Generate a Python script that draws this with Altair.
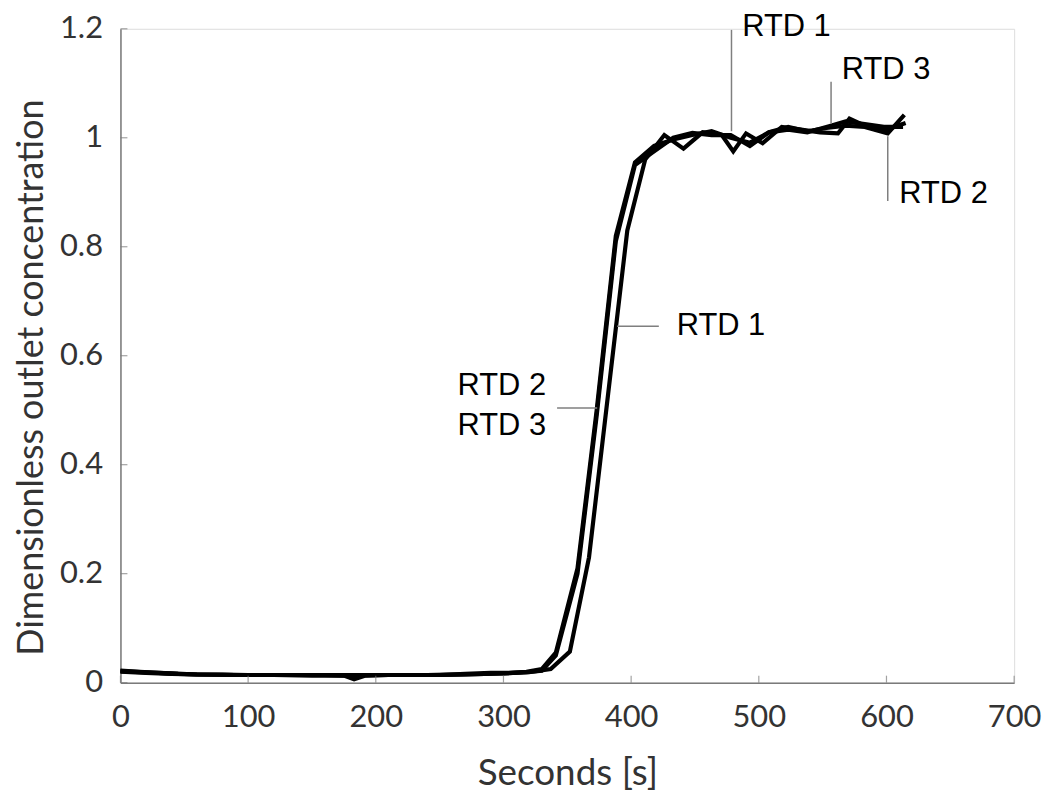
import altair as alt
import pandas as pd

# ---- data ----
t_rtd1 = [0, 20, 40, 60, 90, 120, 150, 180, 210, 240, 270, 300, 320, 337, 352, 367, 382, 397, 411,
          426, 441, 456, 471, 480, 490, 503, 518, 533, 548, 562, 571, 585, 600, 615]
c_rtd1 = [0.020, 0.018, 0.016, 0.015, 0.014, 0.014, 0.014, 0.014, 0.014, 0.014, 0.015, 0.017, 0.019, 0.025,
          0.057, 0.23, 0.53, 0.83, 0.96,
          1.005, 0.98, 1.01, 1.005, 0.975, 1.008, 0.99, 1.02, 1.015, 1.01, 1.008, 1.035, 1.02, 1.015, 1.027]

t_rtd2 = [0, 15, 30, 45, 60, 80, 100, 120, 140, 160, 175, 183, 192, 210, 230, 250, 270, 290, 305, 318,
          330, 341, 358, 373, 388, 403, 418, 433, 448, 463, 478, 493, 508, 523, 538, 553, 568, 583, 601, 614]
c_rtd2 = [0.022, 0.020, 0.018, 0.016, 0.015, 0.015, 0.014, 0.014, 0.014, 0.014, 0.013, 0.006, 0.013, 0.014,
          0.014, 0.014, 0.016, 0.018, 0.018, 0.020,
          0.025, 0.055, 0.21, 0.50, 0.82, 0.955, 0.985, 0.997, 1.005, 1.012, 1.0, 0.991, 1.01, 1.02, 1.012,
          1.018, 1.022, 1.02, 1.008, 1.042]

t_rtd3 = [0, 20, 40, 60, 90, 120, 150, 180, 210, 240, 270, 300, 318, 330, 341, 358, 373, 388, 403,
          418, 433, 448, 463, 478, 493, 508, 523, 538, 555, 568, 583, 598, 613]
c_rtd3 = [0.021, 0.019, 0.017, 0.015, 0.014, 0.014, 0.013, 0.013, 0.014, 0.014, 0.015, 0.017, 0.019, 0.022,
          0.05, 0.20, 0.49, 0.81, 0.95,
          0.975, 1.0, 1.009, 1.005, 1.005, 0.985, 1.01, 1.015, 1.01, 1.021, 1.03, 1.025, 1.02, 1.02]

x_ticks = [0, 100, 200, 300, 400, 500, 600, 700]
y_ticks = [0, 0.2, 0.4, 0.6, 0.8, 1.0, 1.2]

label_text = ["RTD 1", "RTD 3", "RTD 2", "RTD 1", "RTD 2", "RTD 3"]
label_x = [487, 565, 610, 435.7, 264, 264]
label_y = [1.204, 1.125, 0.897, 0.654, 0.544, 0.471]

leader_x = [478.6, 556.6, 601, 389, 342]
leader_x2 = [478.6, 556.6, 601, 421.7, 373.4]
leader_y = [1.012, 1.026, 0.884, 0.654, 0.504]
leader_y2 = [1.198, 1.103, 1.003, 0.654, 0.504]

# ---- tables ----
rows = []
for name, ts, cs in [("RTD 1", t_rtd1, c_rtd1), ("RTD 2", t_rtd2, c_rtd2), ("RTD 3", t_rtd3, c_rtd3)]:
    for i, (t, c) in enumerate(zip(ts, cs)):
        rows.append({"series": name, "t": t, "c": c, "order": i})
df = pd.DataFrame(rows)
labels = pd.DataFrame({"text": label_text, "t": label_x, "c": label_y})
leaders = pd.DataFrame({"t": leader_x, "t2": leader_x2, "c": leader_y, "c2": leader_y2})
xt = pd.DataFrame({"t": x_ticks, "c": [0] * len(x_ticks)})
yt = pd.DataFrame({"t": [0] * len(y_ticks), "c": y_ticks})

FONT = "Lato"
xscale = alt.Scale(domain=[0, 700], nice=False, zero=False)
yscale = alt.Scale(domain=[0, 1.2], nice=False, zero=False)

x_enc = alt.X("t:Q", scale=xscale,
              axis=alt.Axis(values=x_ticks, title="Seconds [s]", tickSize=0, grid=False,
                            labelFlush=False, labelOverlap=False,
                            labelFont=FONT, labelFontSize=31, labelColor="#333333",
                            labelPadding=20, titleFont=FONT, titleFontSize=37,
                            titleFontWeight="normal", titleColor="#333333", titlePadding=23,
                            domainColor="#7a7a7a", domainWidth=1.5))
y_enc = alt.Y("c:Q", scale=yscale,
              axis=alt.Axis(values=y_ticks, title="Dimensionless outlet concentration", tickSize=0,
                            grid=False, labelFlush=False, labelOverlap=False,
                            labelFont=FONT, labelFontSize=31, labelColor="#333333",
                            labelPadding=18, labelExpr="format(datum.value, '.1~f')",
                            titleFont=FONT, titleFontSize=36, titleFontWeight="normal",
                            titleColor="#333333", titlePadding=9, titleY=350,
                            domainColor="#7a7a7a", domainWidth=1.5))

lines = alt.Chart(df).mark_line(color="black", strokeWidth=4.2, strokeJoin="miter").encode(
    x=x_enc, y=y_enc, detail="series:N", order="order:Q")

xticks = alt.Chart(xt).mark_tick(orient="vertical", size=7, thickness=1.2, color="#7a7a7a",
                                 yOffset=-3.5).encode(
    x=alt.X("t:Q", scale=xscale), y=alt.Y("c:Q", scale=yscale))
yticks = alt.Chart(yt).mark_tick(orient="horizontal", size=7, thickness=1.2, color="#7a7a7a",
                                 xOffset=3.5).encode(
    x=alt.X("t:Q", scale=xscale), y=alt.Y("c:Q", scale=yscale))

lead = alt.Chart(leaders).mark_rule(color="#7f7f7f", strokeWidth=1.5).encode(
    x=alt.X("t:Q", scale=xscale), x2="t2:Q", y=alt.Y("c:Q", scale=yscale), y2="c2:Q")

text = alt.Chart(labels).mark_text(align="left", baseline="middle", font="Liberation Sans",
                                   fontSize=31, color="black").encode(
    x=alt.X("t:Q", scale=xscale), y=alt.Y("c:Q", scale=yscale), text="text:N")

chart = alt.layer(lines, xticks, yticks, lead, text).properties(
    width=898, height=657,
    autosize=alt.AutoSizeParams(type="none"),
    padding={"left": 113, "top": 19, "right": 30, "bottom": 110},
).configure_view(stroke=None).configure(background="white")

chart.save("out.html", embed_options={"renderer": "svg", "actions": False})
